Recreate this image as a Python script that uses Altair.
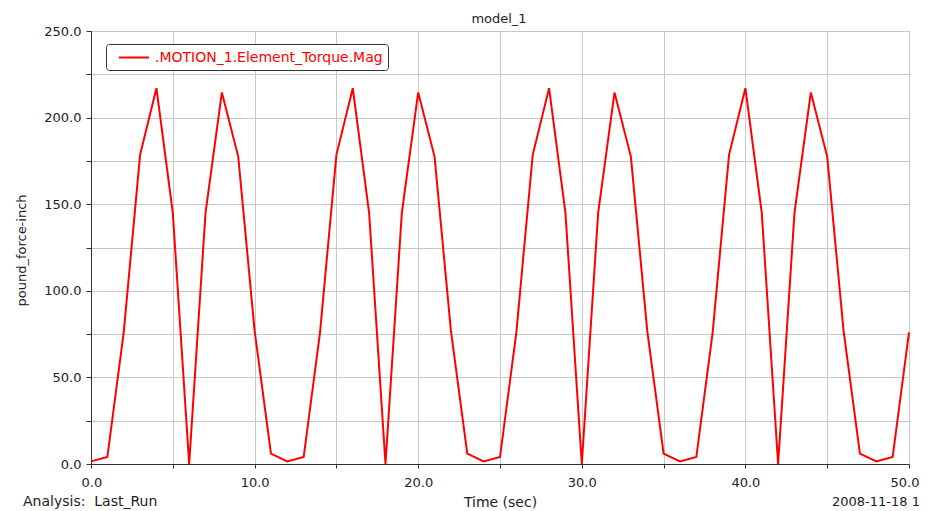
import altair as alt
import pandas as pd

# ---- data ----
time_sec = [0, 1, 2, 3, 4, 5, 6, 7, 8, 9, 10, 11,
            12, 13, 14, 15, 16, 17, 18, 19, 20, 21, 22, 23,
            24, 25, 26, 27, 28, 29, 30, 31, 32, 33, 34, 35,
            36, 37, 38, 39, 40, 41, 42, 43, 44, 45, 46, 47,
            48, 49, 50]
torque_mag = [1.5, 4.0, 76.0, 178.5, 217.0, 145.0, 0.0, 145.0, 214.5, 177.5, 77.0, 6.0,
              1.5, 4.0, 76.0, 178.5, 217.0, 145.0, 0.0, 145.0, 214.5, 177.5, 77.0, 6.0,
              1.5, 4.0, 76.0, 178.5, 217.0, 145.0, 0.0, 145.0, 214.5, 177.5, 77.0, 6.0,
              1.5, 4.0, 76.0, 178.5, 217.0, 145.0, 0.0, 145.0, 214.5, 177.5, 77.0, 6.0,
              1.5, 4.0, 76.0]
series_name = ".MOTION_1.Element_Torque.Mag"
chart_title = "model_1"
x_title = "Time (sec)"
y_title = "pound_force-inch"
footer_left = "Analysis:\u00a0\u00a0Last_Run"
footer_right = "2008-11-18 1"
x_ticks = [0, 5, 10, 15, 20, 25, 30, 35, 40, 45, 50]
y_ticks = [0, 25, 50, 75, 100, 125, 150, 175, 200, 225, 250]

FONT = "DejaVu Sans"
TXT = "#222222"

df = pd.DataFrame({"t": time_sec, "v": torque_mag, "s": [series_name] * len(time_sec)})

line = alt.Chart(df).mark_line(strokeWidth=2, interpolate="linear").encode(
    x=alt.X("t:Q",
            scale=alt.Scale(domain=[0, 50], nice=False, zero=False),
            axis=alt.Axis(values=x_ticks, labelFlush=True, labelFlushOffset=10,
                          labelExpr="datum.value % 10 == 0 ? format(datum.value, '.1f') : ''",
                          title=x_title, titleX=409, titleY=42,
                          titleAlign="center", titleBaseline="alphabetic",
                          titleFontSize=14, tickSize=4, labelPadding=8)),
    y=alt.Y("v:Q",
            scale=alt.Scale(domain=[0, 250], nice=False),
            axis=alt.Axis(values=y_ticks, labelFlush=False,
                          labelExpr="datum.value % 50 == 0 ? format(datum.value, '.1f') : ''",
                          title=y_title, titleX=-66, titleY=219, titleAngle=-90,
                          titleAlign="center", titleBaseline="alphabetic",
                          titleFontSize=13, tickSize=5, labelPadding=5)),
    color=alt.Color("s:N", scale=alt.Scale(range=["#ff0000"]),
                    legend=alt.Legend(title=None, orient="none", legendX=15, legendY=13,
                                      symbolType="M-2,0H2", symbolSize=225,
                                      symbolStrokeWidth=2, symbolOffset=14.5,
                                      labelOffset=12.5, labelFont=FONT, labelFontSize=14,
                                      labelColor="#ff0000", labelLimit=500,
                                      strokeColor="#333333", fillColor="white",
                                      cornerRadius=3, padding=5)),
)

title_df = pd.DataFrame({"label": [chart_title]})
left_df = pd.DataFrame({"label": [footer_left]})
right_df = pd.DataFrame({"label": [footer_right]})

title_txt = alt.Chart(title_df).mark_text(
    align="center", baseline="alphabetic", font=FONT, fontSize=13, color=TXT
).encode(x=alt.value(408), y=alt.value(-8), text="label:N")

left_txt = alt.Chart(left_df).mark_text(
    align="left", baseline="alphabetic", font=FONT, fontSize=14, color=TXT
).encode(x=alt.value(-68), y=alt.value(475), text="label:N")

right_txt = alt.Chart(right_df).mark_text(
    align="left", baseline="alphabetic", font=FONT, fontSize=13, color=TXT
).encode(x=alt.value(741), y=alt.value(475), text="label:N")

chart = alt.layer(line, title_txt, left_txt, right_txt).properties(
    width=818, height=433,
    autosize=alt.AutoSizeParams(type="none"),
    padding={"left": 83, "top": 23, "right": 11, "bottom": 47},
    background="white",
).configure_view(
    stroke="#444444", strokeWidth=1
).configure_axis(
    grid=True, gridColor="#c8c8c8", gridWidth=1,
    domainColor="#333333", tickColor="#333333",
    labelFont=FONT, labelFontSize=13, labelColor=TXT,
    titleFont=FONT, titleFontWeight="normal", titleColor=TXT,
)

chart.save("out.html", embed_options={"renderer": "svg", "actions": False})
